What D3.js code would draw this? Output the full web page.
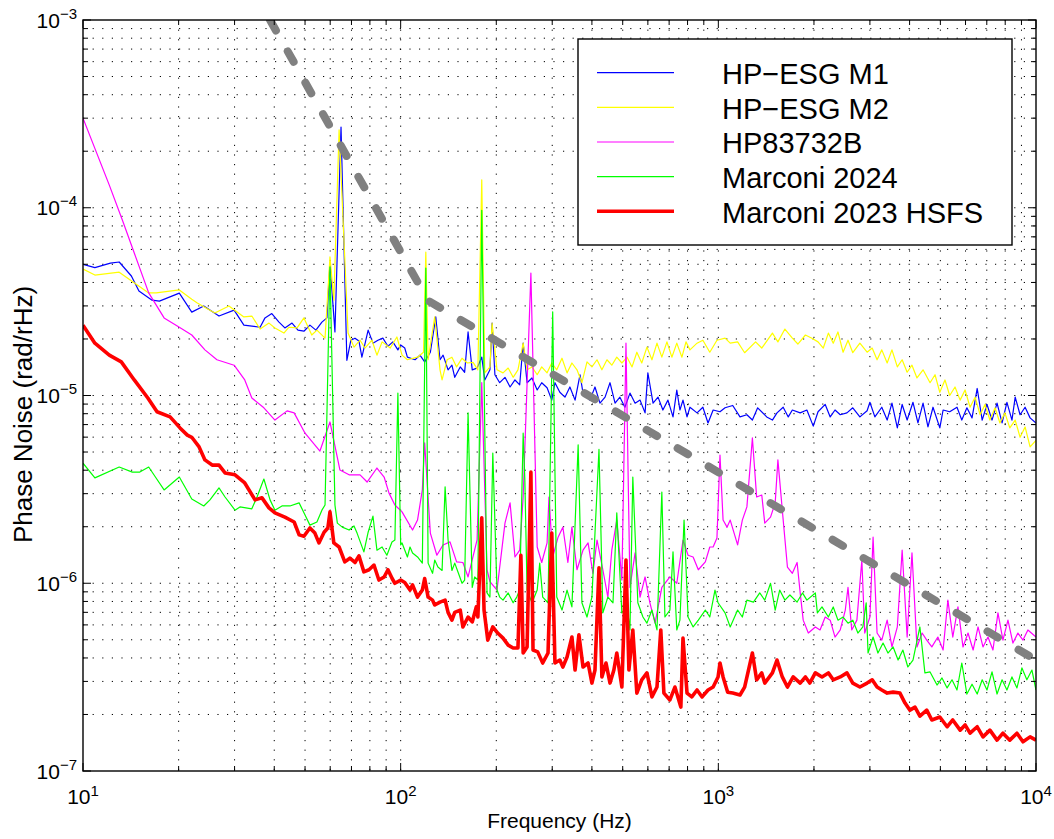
<!DOCTYPE html>
<html>
<head>
<meta charset="utf-8">
<script src="https://cdn.jsdelivr.net/npm/d3@7"></script>
<style>
  body { margin: 0; background: #fff; }
  text { font-family: Arial, "Liberation Sans", Helvetica, sans-serif; fill: #000; }
</style>
</head>
<body>
<svg id="chart" width="1054" height="839"></svg>
<script>
// phase noise spectra, [frequency (Hz), rad/rHz]
const esgM1 = [[10,5.0e-5],[10.9,4.8e-5],[12.2,5.07e-5],[13.0,5.14e-5],[14.2,4.33e-5],[15.0,3.6e-5],[16.5,3.22e-5],[17.4,3.18e-5],[20.1,3.51e-5],[22.0,2.78e-5],[24.0,3.0e-5],[26.8,2.65e-5],[29.9,2.85e-5],[32.1,2.37e-5],[36.1,2.31e-5],[37.4,2.59e-5],[39.3,2.73e-5],[41.4,2.46e-5],[43.2,2.29e-5],[45.5,2.43e-5],[47.5,2.23e-5],[49.6,2.2e-5],[51.8,2.37e-5],[54.1,2.23e-5],[56.5,2.46e-5],[58.6,2.59e-5],[59.9,5.1e-5],[62.1,2.18e-5],[64.9,2.69e-4],[67.7,1.54e-5],[69.7,1.97e-5],[71.8,2.02e-5],[73.9,1.95e-5],[75.5,1.6e-5],[79.0,2.23e-5],[81.8,1.9e-5],[84.8,1.97e-5],[87.9,2.02e-5],[91.2,1.83e-5],[94.5,1.93e-5],[98,1.75e-5],
  [100,1.86e-5],[103,1.79e-5],[105,1.6e-5],[111,1.55e-5],[115,1.64e-5],[119,1.51e-5],[124,1.7e-5],[129,2.62e-5],[133,1.55e-5],[136,1.64e-5],[141,1.37e-5],[145,1.45e-5],[148,1.25e-5],[154,1.42e-5],[159,1.33e-5],[163,2.18e-5],[168,1.37e-5],[174,1.4e-5],[180,1.6e-5],[184,1.21e-5],[191,1.37e-5],[194,2.43e-5],[198,1.29e-5],[205,1.17e-5],[213,1.25e-5],[221,1.11e-5],[229,1.21e-5],[237,1.14e-5],[243,1.9e-5],[250,1.17e-5],[259,1.24e-5],[269,1.07e-5],[278,1.17e-5],[289,1.1e-5],[299,9.45e-6],[306,1.17e-5],[317,1.04e-5],[329,9.8e-6],[341,1.11e-5],[354,9.45e-6],[367,1.29e-5],[375,1.03e-5],[394,9.45e-6],[409,1.11e-5],[424,9.1e-6],[440,9.8e-6],[456,1.17e-5],[473,9.1e-6],[490,9.8e-6],[508,8.66e-6],[527,1.03e-5],[547,9.1e-6],[567,9.45e-6],[588,8.08e-6],[600,1.32e-5],[623,9.1e-6],[646,9.8e-6],[669,8.37e-6],[694,9.45e-6],[720,7.69e-6],[740,1.07e-5],[757,8.37e-6],[774,9.45e-6],[797,7.69e-6],[814,8.66e-6],[857,8.08e-6],[894,8.66e-6],[928,7.14e-6],[963,8.37e-6],[1012,8.19e-6],
  [1050,8.6e-6],[1110,8.85e-6],[1170,7.69e-6],[1230,7.9e-6],[1280,7.4e-6],[1330,8.6e-6],[1420,7.69e-6],[1480,7.4e-6],[1530,8.08e-6],[1600,8.66e-6],[1660,7.69e-6],[1710,8.37e-6],[1810,8.08e-6],[1900,8.37e-6],[1990,6.87e-6],[2060,8.19e-6],[2170,8.96e-6],[2250,7.69e-6],[2330,8.37e-6],[2420,7.9e-6],[2540,8.08e-6],[2650,8.6e-6],[2790,7.69e-6],[2940,8.3e-6],[3000,9.2e-6],[3110,7.69e-6],[3270,8.66e-6],[3400,7.4e-6],[3520,9.1e-6],[3660,6.72e-6],[3790,8.96e-6],[3930,7.4e-6],[4100,9.2e-6],[4250,7.14e-6],[4410,9.1e-6],[4570,6.8e-6],[4740,8.66e-6],[4980,6.72e-6],[5100,8.37e-6],[5350,8.19e-6],[5640,8.66e-6],[5840,7.4e-6],[6060,8.6e-6],[6290,7.6e-6],[6530,1.09e-5],[6770,7.4e-6],[7010,8.96e-6],[7270,7.4e-6],[7540,9.1e-6],[7820,7.14e-6],[8100,9.2e-6],[8400,7.4e-6],[8600,9.8e-6],[8910,7.9e-6],[9240,8.66e-6],[9580,7.6e-6],[10000,7.14e-6]];

const esgM2 = [[10,4.72e-5],[10.9,4.38e-5],[13.0,4.54e-5],[16.1,3.52e-5],[17.0,3.52e-5],[20.1,3.65e-5],[22.0,3.26e-5],[22.9,3.11e-5],[26.0,2.75e-5],[28.8,3.0e-5],[32.1,2.62e-5],[34.0,2.65e-5],[36.1,2.26e-5],[38.5,2.43e-5],[40.2,2.29e-5],[42.9,2.15e-5],[44.5,2.31e-5],[47.2,2.29e-5],[49.6,2.59e-5],[52.5,2.1e-5],[54.5,2.23e-5],[57.8,2.02e-5],[59.9,5.47e-5],[61.6,3.22e-5],[64.0,2.6e-4],[68.3,2.15e-5],[71.3,1.81e-5],[74.5,1.97e-5],[77.2,1.79e-5],[81.2,1.97e-5],[84.2,1.64e-5],[87.4,1.93e-5],[92.7,1.79e-5],[97.3,2.05e-5],
  [101,1.64e-5],[105,1.55e-5],[113,1.6e-5],[118,1.7e-5],[120,5.8e-5],[122,1.55e-5],[128,2.62e-5],[133,1.37e-5],[135,1.21e-5],[140,1.55e-5],[145,1.6e-5],[150,1.42e-5],[156,1.58e-5],[162,1.49e-5],[169,1.5e-5],[175,1.37e-5],[180,1.41e-4],[184,1.32e-5],[191,1.42e-5],[194,2.43e-5],[201,1.37e-5],[210,1.32e-5],[218,1.4e-5],[226,1.25e-5],[234,1.37e-5],[243,1.9e-5],[250,1.37e-5],[259,1.42e-5],[269,1.29e-5],[278,1.42e-5],[289,1.32e-5],[299,1.49e-5],[310,1.37e-5],[322,1.58e-5],[334,1.32e-5],[346,1.49e-5],[359,1.37e-5],[372,1.17e-5],[386,1.51e-5],[400,1.42e-5],[415,1.55e-5],[430,1.37e-5],[446,1.55e-5],[462,1.45e-5],[479,1.6e-5],[497,1.49e-5],[516,1.6e-5],[535,1.42e-5],[554,1.7e-5],[574,1.49e-5],[596,1.81e-5],[618,1.55e-5],[641,1.9e-5],[664,1.6e-5],[689,1.93e-5],[714,1.6e-5],[740,1.9e-5],[768,1.6e-5],[791,1.93e-5],[814,1.75e-5],[857,1.9e-5],[894,1.97e-5],[940,1.7e-5],[990,1.97e-5],
  [1050,2.02e-5],[1090,1.9e-5],[1150,1.93e-5],[1210,1.69e-5],[1310,1.93e-5],[1370,1.79e-5],[1480,2.15e-5],[1540,1.93e-5],[1620,2.26e-5],[1710,2.02e-5],[1780,1.88e-5],[1880,2.1e-5],[1970,2.02e-5],[2060,1.93e-5],[2140,1.79e-5],[2220,2.15e-5],[2300,1.9e-5],[2380,2.18e-5],[2470,1.7e-5],[2560,1.97e-5],[2650,1.69e-5],[2790,1.9e-5],[2940,1.7e-5],[3050,1.79e-5],[3160,1.55e-5],[3270,1.75e-5],[3400,1.49e-5],[3520,1.75e-5],[3660,1.42e-5],[3790,1.55e-5],[3930,1.33e-5],[4070,1.45e-5],[4220,1.24e-5],[4410,1.37e-5],[4640,1.17e-5],[4810,1.29e-5],[4980,1.04e-5],[5170,1.21e-5],[5350,1.0e-5],[5560,1.11e-5],[5770,9.45e-6],[5980,1.07e-5],[6200,8.66e-6],[6430,9.8e-6],[6670,7.9e-6],[6910,8.96e-6],[7160,7.4e-6],[7430,8.6e-6],[7700,7.14e-6],[7980,8.08e-6],[8270,6.72e-6],[8600,7.4e-6],[8910,5.99e-6],[9240,6.8e-6],[9580,5.32e-6],[10000,5.77e-6]];

const hp83732b = [[10,3.0e-4],[12.1,1.32e-4],[13.3,8.6e-5],[14.5,5.74e-5],[16.1,3.52e-5],[18.0,2.59e-5],[20.1,2.31e-5],[22.0,2.1e-5],[24.2,1.75e-5],[26.4,1.55e-5],[29.9,1.45e-5],[32.3,1.21e-5],[34.0,9.7e-6],[37.1,8.6e-6],[40.2,7.4e-6],[43.9,8.28e-6],[46.2,8.08e-6],[50.0,6.3e-6],[55.7,5.06e-6],[59.9,7.23e-6],[64.4,4.01e-6],[68.8,3.78e-6],[74.5,3.78e-6],[78.4,3.46e-6],[84.2,4.11e-6],[88.7,3.68e-6],[91.9,3.02e-6],[95.9,2.61e-6],[101,2.4e-6],[109,1.92e-6],[113,2.17e-6],[117,3.14e-6],[119,5.6e-6],[124,1.85e-6],[130,1.41e-6],[136,1.6e-6],[143,1.66e-6],[150,1.3e-6],[157,1.29e-6],[163,1.08e-6],[174,1.7e-6],[180,1.17e-5],[187,1.18e-6],[191,1.02e-6],[201,9.2e-7],[213,2.09e-6],[221,2.68e-6],[229,1.38e-6],[237,1.5e-6],[243,2.88e-6],[257,4.49e-5],[269,1.56e-6],[278,1.29e-6],[289,1.64e-6],[293,2.88e-6],[301,1.38e-6],[313,1.76e-6],[324,1.99e-6],[336,1.29e-6],[346,1.99e-6],[359,1.18e-6],[375,1.5e-6],[389,1.64e-6],[403,1.13e-6],[415,1.7e-6],[433,1.18e-6],[449,8.44e-7],[462,1.5e-6],[479,2.17e-6],[497,1.04e-6],[512,1.9e-5],[527,9.5e-7],[547,1.45e-6],[567,8.44e-7],[588,1.08e-6],[609,7.87e-7],[632,6.13e-7],[664,9.5e-7],[704,1.08e-6],[740,1.0e-6],[774,1.7e-6],[803,1.41e-6],[833,1.38e-6],[865,1.18e-6],[910,1.3e-6],[940,1.56e-6],[963,1.56e-6],[990,1.74e-6],
  [1012,4.82e-6],[1035,2.17e-6],[1065,1.99e-6],[1090,2.17e-6],[1150,1.6e-6],[1190,2.17e-6],[1230,2.55e-6],[1280,5.94e-6],[1320,2.88e-6],[1370,2.95e-6],[1400,2.09e-6],[1460,2.25e-6],[1510,2.68e-6],[1540,4.54e-6],[1590,2.45e-6],[1650,1.22e-6],[1710,1.13e-6],[1770,1.29e-6],[1810,8.88e-7],[1850,6.36e-7],[1920,5.43e-7],[2020,5.85e-7],[2090,5.64e-7],[2170,6.61e-7],[2250,6.36e-7],[2330,5.17e-7],[2420,5.64e-7],[2510,7.2e-7],[2560,9.5e-7],[2630,5.64e-7],[2730,6.36e-7],[2830,1.33e-6],[2890,5.43e-7],[3000,6.61e-7],[3070,1.76e-6],[3160,5.43e-7],[3270,4.98e-7],[3400,6.36e-7],[3520,4.58e-7],[3660,5.85e-7],[3790,1.5e-6],[3930,5.17e-7],[4070,1.45e-6],[4220,4.58e-7],[4380,5.43e-7],[4530,4.98e-7],[4700,4.58e-7],[4910,5.17e-7],[5100,4.41e-7],[5280,8.13e-7],[5470,5.17e-7],[5680,7.48e-7],[5890,4.58e-7],[6110,5.43e-7],[6340,4.41e-7],[6570,5.85e-7],[6810,4.58e-7],[7060,5.17e-7],[7320,4.41e-7],[7590,6.95e-7],[7870,4.98e-7],[8160,6.36e-7],[8460,4.8e-7],[8770,5.43e-7],[9100,4.98e-7],[9430,5.64e-7],[10000,5.17e-7]];

const marconi2024 = [[10,4.36e-6],[10.9,3.64e-6],[13.0,4.16e-6],[14.3,3.91e-6],[15.1,3.91e-6],[16.1,4.16e-6],[16.9,3.68e-6],[18.0,3.14e-6],[20.1,3.68e-6],[22.0,2.81e-6],[24.0,2.58e-6],[25.1,2.78e-6],[26.8,3.22e-6],[28.0,2.88e-6],[30.1,2.45e-6],[31.2,2.55e-6],[34.0,2.49e-6],[35.3,2.88e-6],[37.1,3.59e-6],[38.8,2.78e-6],[40.2,2.45e-6],[42.3,2.58e-6],[44.8,2.58e-6],[47.9,2.68e-6],[50.0,2.31e-6],[51.8,2.04e-6],[54.5,2.12e-6],[56.5,2.45e-6],[57.8,2.61e-6],[59.9,4.84e-5],[62.1,2.61e-6],[63.2,2.09e-6],[65.5,1.99e-6],[68.8,1.92e-6],[71.3,2.02e-6],[72.9,1.85e-6],[76.6,1.47e-6],[79.0,1.87e-6],[81.8,2.28e-6],[84.2,1.5e-6],[87.4,1.56e-6],[90.5,1.41e-6],[93.9,1.66e-6],[95.9,1.7e-6],[98,1.03e-5],[100,1.6e-6],[101,1.64e-6],[105,1.38e-6],[107,1.56e-6],[109,1.45e-6],[113,1.38e-6],[117,1.28e-6],[120,4.77e-5],[122,1.28e-6],[126,1.13e-6],[128,1.33e-6],[131,1.22e-6],[135,1.17e-6],[138,3.26e-6],[141,1.7e-6],[145,1.17e-6],[148,1.28e-6],[152,1.13e-6],[156,1.0e-6],[159,1.04e-6],[163,8.08e-6],[168,9.5e-7],[171,1.08e-6],[175,1.04e-6],[180,9.7e-5],[187,8.88e-7],[191,8.44e-7],[195,4.94e-6],[201,9.2e-7],[205,8.44e-7],[210,8.13e-7],[218,8.88e-7],[226,7.87e-7],[232,8.44e-7],[237,9.2e-7],[243,6.3e-6],[246,3.55e-6],[250,9.2e-7],[259,7.87e-7],[269,9.2e-7],[274,1.28e-6],[280,8.44e-7],[291,7.87e-7],[301,2.79e-5],[310,8.44e-7],[322,7.2e-7],[334,9.2e-7],[346,7.48e-7],[362,5.46e-6],[372,7.87e-7],[386,6.61e-7],[400,8.44e-7],[409,1.85e-6],[421,5.16e-6],[433,6.95e-7],[449,8.44e-7],[466,7.87e-7],[479,2.37e-6],[497,6.95e-7],[516,7.48e-7],[527,5.64e-7],[538,3.68e-6],[558,7.87e-7],[579,6.61e-7],[596,6.13e-7],[618,7.2e-7],[641,5.64e-7],[664,3.06e-6],[679,6.61e-7],[704,7.2e-7],[720,1.47e-6],[740,5.64e-7],[757,6.36e-7],[780,2.17e-6],[803,6.61e-7],[833,5.85e-7],[865,6.36e-7],[910,7.2e-7],[940,6.61e-7],[976,9.2e-7],[998,7.87e-7],
  [1050,6.95e-7],[1090,5.85e-7],[1150,7.2e-7],[1190,6.61e-7],[1230,8.13e-7],[1290,7.94e-7],[1350,8.88e-7],[1400,8.13e-7],[1460,1.0e-6],[1510,7.2e-7],[1560,9.2e-7],[1620,8.13e-7],[1680,8.66e-7],[1770,7.94e-7],[1840,8.88e-7],[1900,8.13e-7],[2020,8.88e-7],[2050,6.95e-7],[2120,7.48e-7],[2220,6.61e-7],[2300,7.48e-7],[2380,6.36e-7],[2470,6.61e-7],[2560,6.13e-7],[2650,6.36e-7],[2750,5.43e-7],[2850,5.85e-7],[2920,7.87e-7],[2960,4.25e-7],[3070,5.17e-7],[3180,4.25e-7],[3300,4.8e-7],[3420,4.25e-7],[3550,4.58e-7],[3680,3.9e-7],[3810,4.41e-7],[3950,3.58e-7],[4100,3.9e-7],[4310,5.85e-7],[4470,3.33e-7],[4640,3.37e-7],[4880,2.87e-7],[5060,3.13e-7],[5250,2.77e-7],[5440,3.06e-7],[5640,2.7e-7],[5840,3.76e-7],[6060,2.57e-7],[6290,2.9e-7],[6530,2.57e-7],[6770,3.06e-7],[7010,2.7e-7],[7270,3.37e-7],[7540,2.57e-7],[7820,3.06e-7],[8100,2.7e-7],[8400,3.17e-7],[8710,2.77e-7],[9030,3.54e-7],[9360,3.06e-7],[9710,3.45e-7],[10000,2.7e-7]];

const marconi2023 = [[10,2.37e-5],[10.9,1.9e-5],[12.1,1.64e-5],[13.2,1.51e-5],[14.5,1.21e-5],[16.0,9.7e-6],[17.1,8.19e-6],[18.8,7.69e-6],[20.2,6.72e-6],[21.3,6.15e-6],[22.0,5.99e-6],[23.2,5.32e-6],[24.2,4.54e-6],[25.5,4.26e-6],[26.8,4.26e-6],[28.0,3.87e-6],[30.1,3.78e-6],[32.3,3.42e-6],[34.8,2.78e-6],[36.6,2.85e-6],[38.5,2.52e-6],[40.2,2.37e-6],[43.2,2.25e-6],[46.2,2.12e-6],[47.9,1.81e-6],[49.6,1.78e-6],[51.8,1.97e-6],[53.7,1.85e-6],[55.3,1.64e-6],[57.4,1.87e-6],[59.0,1.97e-6],[59.9,2.4e-6],[61.6,1.64e-6],[64.0,1.56e-6],[66.7,1.3e-6],[69.2,1.36e-6],[71.8,1.29e-6],[73.9,1.4e-6],[76.6,1.15e-6],[79.5,1.18e-6],[82.4,1.25e-6],[85.4,1.04e-6],[88.7,1.08e-6],[91.2,1.18e-6],[94,1.06e-6],[95.9,1.0e-6],[100,1.04e-6],[103,1.01e-6],[107,9.2e-7],[109,9.8e-7],[113,8.44e-7],[117,9.2e-7],[119,1.06e-6],[122,8.44e-7],[126,8.13e-7],[128,7.66e-7],[133,7.94e-7],[138,8.13e-7],[141,7.0e-7],[145,6.36e-7],[148,7.0e-7],[154,7.2e-7],[157,5.85e-7],[163,6.61e-7],[168,6.22e-7],[173,7.48e-7],[175,6.61e-7],[180,2.23e-6],[183,7.2e-7],[188,4.98e-7],[195,5.85e-7],[202,5.43e-7],[210,5.1e-7],[218,4.68e-7],[226,4.52e-7],[234,4.52e-7],[239,1.41e-6],[243,4.25e-7],[250,4.58e-7],[257,3.91e-6],[261,4.41e-7],[270,4.31e-7],[280,3.76e-7],[291,4.25e-7],[299,1.85e-6],[306,3.76e-7],[317,3.9e-7],[324,3.58e-7],[334,4.05e-7],[346,5.17e-7],[354,3.45e-7],[364,5.32e-7],[375,3.58e-7],[389,3.76e-7],[400,2.94e-7],[409,3.45e-7],[421,1.21e-6],[430,3.17e-7],[443,3.76e-7],[456,2.94e-7],[469,3.45e-7],[479,4.25e-7],[497,2.8e-7],[512,1.33e-6],[523,3.45e-7],[538,5.64e-7],[554,2.6e-7],[574,3.06e-7],[596,3.33e-7],[618,2.48e-7],[641,2.8e-7],[659,5.64e-7],[674,2.6e-7],[704,2.39e-7],[730,2.8e-7],[762,2.19e-7],[774,5.1e-7],[797,2.6e-7],[825,2.48e-7],[857,2.7e-7],[889,2.48e-7],[928,2.7e-7],[963,2.8e-7],[998,3.17e-7],
  [1012,3.76e-7],[1035,3.17e-7],[1070,2.63e-7],[1110,2.6e-7],[1170,2.54e-7],[1210,2.8e-7],[1280,4.25e-7],[1320,3.06e-7],[1370,3.33e-7],[1400,2.94e-7],[1480,3.33e-7],[1530,3.9e-7],[1590,3.17e-7],[1650,2.8e-7],[1720,3.17e-7],[1810,2.94e-7],[1880,3.17e-7],[1940,2.94e-7],[2020,3.33e-7],[2120,3.17e-7],[2220,3.33e-7],[2300,3.06e-7],[2420,3.17e-7],[2540,3.33e-7],[2650,2.94e-7],[2790,2.8e-7],[2940,2.94e-7],[3050,3.06e-7],[3160,2.8e-7],[3270,2.7e-7],[3400,2.6e-7],[3550,2.63e-7],[3730,2.6e-7],[3870,2.3e-7],[4010,2.11e-7],[4160,2.19e-7],[4310,1.96e-7],[4530,2.11e-7],[4700,1.87e-7],[4980,1.94e-7],[5250,1.72e-7],[5470,1.87e-7],[5770,1.65e-7],[5980,1.76e-7],[6200,1.59e-7],[6530,1.72e-7],[6810,1.52e-7],[7160,1.65e-7],[7540,1.46e-7],[7870,1.59e-7],[8270,1.46e-7],[8710,1.59e-7],[9100,1.43e-7],[9580,1.52e-7],[10000,1.46e-7]];

// grey dashed requirement line
const specLine = [[38.8,1.0e-3],[122,3.2e-5],[10000,3.9e-7]];

const seriesNames = ["HP\u2212ESG M1", "HP\u2212ESG M2", "HP83732B", "Marconi 2024", "Marconi 2023 HSFS"];
const seriesColors = ["#0000ff", "#ffff00", "#ff00ff", "#00ff00", "#ff0000"];
const seriesWidths = [1.2, 1.2, 1.2, 1.2, 3.6];
const xMajor = [10, 100, 1000, 10000];
const yMajor = [1e-7, 1e-6, 1e-5, 1e-4, 1e-3];

const margin = {top: 20, right: 18, bottom: 68, left: 83};
const width = 1054 - margin.left - margin.right;
const height = 839 - margin.top - margin.bottom;

const svg = d3.select('#chart');
const g = svg.append('g').attr('transform', `translate(${margin.left},${margin.top})`);

const x = d3.scaleLog().domain([10, 1e4]).range([0, width]);
const y = d3.scaleLog().domain([1e-7, 1e-3]).range([height, 0]);

const isMajor = v => Math.abs(Math.log10(v) - Math.round(Math.log10(v))) < 1e-9;
const xTicks = x.ticks();
const yTicks = y.ticks();

// dotted grid on every decade and sub-decade
g.append('g').selectAll('line').data(xTicks.filter((d, i) => i > 0 && i < xTicks.length - 1))
  .enter().append('line')
  .attr('x1', d => x(d)).attr('x2', d => x(d)).attr('y1', 0).attr('y2', height)
  .attr('stroke', '#000').attr('stroke-width', 1).attr('stroke-dasharray', '1.2,8.4');
g.append('g').selectAll('line').data(yTicks.filter((d, i) => i > 0 && i < yTicks.length - 1))
  .enter().append('line')
  .attr('y1', d => y(d)).attr('y2', d => y(d)).attr('x1', 0).attr('x2', width)
  .attr('stroke', '#000').attr('stroke-width', 1).attr('stroke-dasharray', '1.2,8.4');

svg.append('defs').append('clipPath').attr('id', 'plot-clip')
  .append('rect').attr('width', width).attr('height', height);

const line = d3.line().x(d => x(d[0])).y(d => y(d[1]));
const plot = g.append('g').attr('clip-path', 'url(#plot-clip)');

[esgM1, esgM2, hp83732b, marconi2024, marconi2023].forEach((s, i) => {
  plot.append('path').datum(s)
    .attr('d', line)
    .attr('fill', 'none')
    .attr('stroke', seriesColors[i])
    .attr('stroke-width', seriesWidths[i])
    .attr('stroke-linejoin', 'round');
});

plot.append('path').datum(specLine)
  .attr('d', line)
  .attr('fill', 'none')
  .attr('stroke', '#808080')
  .attr('stroke-width', 8)
  .attr('stroke-linecap', 'round')
  .attr('stroke-dasharray', '12,24');

// ticks pointing inward on all four sides
const tickLen = d => isMajor(d) ? 8 : 5;
const ticks = g.append('g').attr('stroke', '#000').attr('stroke-width', 1);
xTicks.forEach(d => {
  ticks.append('line').attr('x1', x(d)).attr('x2', x(d)).attr('y1', height).attr('y2', height - tickLen(d));
  ticks.append('line').attr('x1', x(d)).attr('x2', x(d)).attr('y1', 0).attr('y2', tickLen(d));
});
yTicks.forEach(d => {
  ticks.append('line').attr('y1', y(d)).attr('y2', y(d)).attr('x1', 0).attr('x2', tickLen(d));
  ticks.append('line').attr('y1', y(d)).attr('y2', y(d)).attr('x1', width).attr('x2', width - tickLen(d));
});

g.append('rect').attr('width', width).attr('height', height)
  .attr('fill', 'none').attr('stroke', '#000').attr('stroke-width', 1.4);

// tick labels as 10^n
xMajor.forEach(d => {
  const t = g.append('text').attr('x', x(d)).attr('y', height + 33)
    .attr('text-anchor', 'middle').attr('font-size', 21).text('10');
  t.append('tspan').attr('dy', -8).attr('font-size', 15).text(Math.round(Math.log10(d)));
});
yMajor.forEach(d => {
  const t = g.append('text').attr('x', -6).attr('y', y(d) + 7.5)
    .attr('text-anchor', 'end').attr('font-size', 21).text('10');
  t.append('tspan').attr('dy', -9).attr('font-size', 15).text('\u2212' + Math.abs(Math.round(Math.log10(d))));
});

g.append('text').attr('x', width / 2).attr('y', height + 57)
  .attr('text-anchor', 'middle').attr('font-size', 21).text('Frequency (Hz)');
g.append('text').attr('transform', `translate(${-51},${height / 2 + 19}) rotate(-90)`)
  .attr('text-anchor', 'middle').attr('font-size', 26).text('Phase Noise (rad/rHz)');

// legend
const legend = g.append('g').attr('transform', `translate(${578 - margin.left},${39 - margin.top})`);
legend.append('rect').attr('width', 434).attr('height', 206)
  .attr('fill', '#fff').attr('stroke', '#000').attr('stroke-width', 1.4);
seriesNames.forEach((name, i) => {
  const ly = 33.7 + i * 34.65;
  legend.append('line').attr('x1', 19).attr('x2', 96).attr('y1', ly).attr('y2', ly)
    .attr('stroke', seriesColors[i]).attr('stroke-width', seriesWidths[i]);
  legend.append('text').attr('x', 144).attr('y', ly + 11.3)
    .attr('font-size', 29).text(name);
});
</script>
</body>
</html>
